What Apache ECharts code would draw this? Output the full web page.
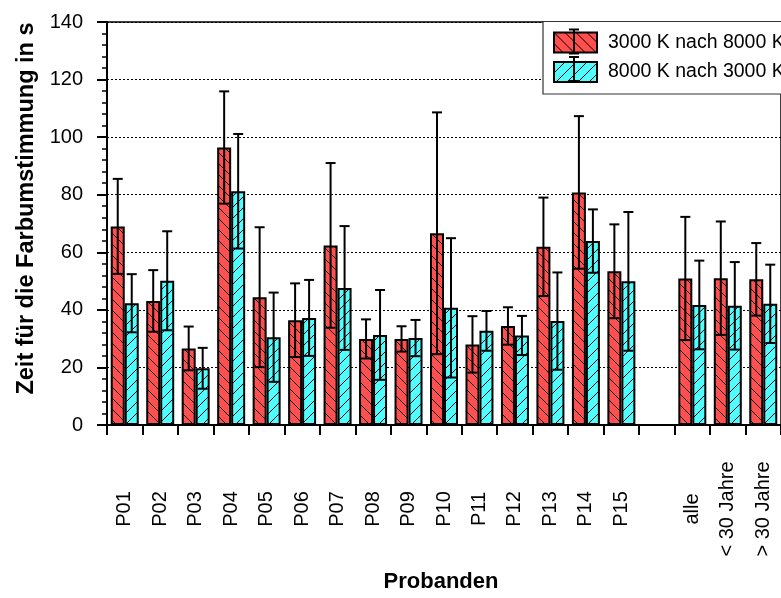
<!DOCTYPE html>
<html>
<head>
<meta charset="utf-8">
<script src="https://cdn.jsdelivr.net/npm/echarts@6/dist/echarts.min.js"></script>
<style>
html,body{margin:0;padding:0;background:#fff;}
#chart{width:781px;height:598px;}
</style>
</head>
<body>
<div id="chart"></div>
<script>
const categories = ['P01','P02','P03','P04','P05','P06','P07','P08','P09','P10','P11','P12','P13','P14','P15','','alle','< 30 Jahre','> 30 Jahre'];
const seriesNames = ['3000 K nach 8000 K','8000 K nach 3000 K'];
const redMean  = [69.0,43.1,26.6,96.4,44.4,36.4,62.4,29.9,29.9,66.6,28.0,34.4,61.9,80.8,53.4,null,50.9,51.0,50.6];
const redSd    = [16.5,10.7,7.6,19.5,24.3,12.8,28.6,6.8,4.4,42.0,9.8,6.5,17.1,26.5,16.3,null,21.4,19.7,12.6];
const cyanMean = [42.3,50.1,19.7,81.2,30.5,37.2,47.6,31.3,30.2,40.7,32.7,31.1,36.1,63.9,49.9,null,41.7,41.4,42.1];
const cyanSd   = [10.1,17.2,7.1,19.9,15.5,13.2,21.5,15.6,6.3,24.2,6.9,6.8,16.9,11.0,24.1,null,15.4,15.2,13.6];
const yTicks = [0,20,40,60,80,100,120,140];

const FONT = "'Liberation Sans', Arial, Helvetica, sans-serif";
const BAR_W = 14;

function makePattern(bg, dir) {
  const s = 11;
  const c = document.createElement('canvas');
  c.width = s; c.height = s;
  const g = c.getContext('2d');
  g.fillStyle = bg; g.fillRect(0,0,s,s);
  g.strokeStyle = '#000'; g.lineWidth = 1;
  g.beginPath();
  if (dir === 'back') {
    g.moveTo(-1,-1); g.lineTo(s+1,s+1);
    g.moveTo(-1,s-1); g.lineTo(1,s+1);
    g.moveTo(s-1,-1); g.lineTo(s+1,1);
  } else {
    g.moveTo(-1,s+1); g.lineTo(s+1,-1);
    g.moveTo(-1,1); g.lineTo(1,-1);
    g.moveTo(s-1,s+1); g.lineTo(s+1,s-1);
  }
  g.stroke();
  return {image: c, repeat: 'repeat'};
}
const redPat = makePattern('#ff4f4f','back');
const cyanPat = makePattern('#4fffff','fwd');

function errData(mean, sd) {
  return mean.map((m,i) => m == null ? [i, null, null] : [i, +(m - sd[i]).toFixed(2), +(m + sd[i]).toFixed(2)]);
}

function errRender(offset) {
  return function(params, api) {
    if (api.value(1) == null || isNaN(api.value(1))) return;
    const idx = api.value(0);
    const x = api.coord([idx, 0])[0] + offset;
    const lo = api.coord([idx, api.value(1)])[1];
    const hi = api.coord([idx, api.value(2)])[1];
    const cw = 5;
    const st = {stroke:'#000', lineWidth:2};
    return {type:'group', children:[
      {type:'line', shape:{x1:x,y1:lo,x2:x,y2:hi}, style:st},
      {type:'line', shape:{x1:x-cw,y1:hi,x2:x+cw,y2:hi}, style:st},
      {type:'line', shape:{x1:x-cw,y1:lo,x2:x+cw,y2:lo}, style:st}
    ]};
  };
}

const chart = echarts.init(document.getElementById('chart'), null, {renderer:'canvas'});

function legendGlyph(yTop) {
  const x = 574, st = {stroke:'#000', lineWidth:2};
  return [
    {type:'line', shape:{x1:x,y1:yTop-2,x2:x,y2:yTop+22}, style:st, z:100},
    {type:'line', shape:{x1:x-5,y1:yTop-2,x2:x+5,y2:yTop-2}, style:st, z:100},
    {type:'line', shape:{x1:x-5,y1:yTop+22,x2:x+5,y2:yTop+22}, style:st, z:100}
  ];
}

chart.setOption({
  animation:false,
  backgroundColor:'#fff',
  textStyle:{fontFamily:FONT},
  grid:{left:107, top:22, bottom:169, right:-9.5, show:true, borderColor:'#000', borderWidth:1.5, backgroundColor:'transparent'},
  legend:{
    data:seriesNames,
    left:543, top:21.5,
    orient:'vertical',
    icon:'rect',
    itemWidth:43, itemHeight:20, itemGap:7.5,
    padding:[10,40,11,10],
    borderColor:'#333', borderWidth:1.2, backgroundColor:'#fff',
    textStyle:{fontFamily:FONT, fontSize:19.5, color:'#000', padding:[0,0,0,6]}
  },
  xAxis:{
    type:'category',
    data:categories,
    name:'Probanden',
    nameLocation:'middle',
    nameGap:146,
    nameTextStyle:{fontFamily:FONT, fontSize:22, fontWeight:'bold', color:'#000', padding:[0,6,0,0]},
    axisLine:{lineStyle:{color:'#000', width:2}},
    axisTick:{show:true, length:10, lineStyle:{color:'#000', width:2}, interval:0},
    axisLabel:{interval:0, rotate:90, align:'center', verticalAlign:'middle', margin:84, fontFamily:FONT, fontSize:20, color:'#000'},
    splitLine:{show:false}
  },
  yAxis:{
    type:'value',
    min:yTicks[0], max:yTicks[yTicks.length-1], interval:20,
    name:'Zeit für die Farbumstimmung in s',
    nameLocation:'middle',
    nameRotate:90,
    nameGap:65,
    nameTextStyle:{fontFamily:FONT, fontSize:23.5, fontWeight:'bold', color:'#000', padding:[0,0,0,30]},
    axisLine:{show:true, lineStyle:{color:'#000', width:2}},
    axisTick:{show:true, length:10, lineStyle:{color:'#000', width:2}},
    minorTick:{show:true, splitNumber:5, length:5, lineStyle:{color:'#000', width:1.5}},
    axisLabel:{margin:24, fontFamily:FONT, fontSize:20, color:'#000'},
    splitLine:{show:true, lineStyle:{color:'#000', width:1, type:[2,2]}}
  },
  graphic: legendGlyph(31.5).concat(legendGlyph(59)),
  series:[
    {name:seriesNames[0], type:'bar', data:redMean, barWidth:BAR_W, barGap:'0%',
     itemStyle:{color:redPat, borderColor:'#000', borderWidth:2}, z:2},
    {name:seriesNames[1], type:'bar', data:cyanMean, barWidth:BAR_W, barGap:'0%',
     itemStyle:{color:cyanPat, borderColor:'#000', borderWidth:2}, z:2},
    {name:'err1', type:'custom', data:errData(redMean, redSd), encode:{x:0, y:[1,2]}, renderItem:errRender(-BAR_W/2), z:5},
    {name:'err2', type:'custom', data:errData(cyanMean, cyanSd), encode:{x:0, y:[1,2]}, renderItem:errRender(BAR_W/2), z:5}
  ]
});
</script>
</body>
</html>
